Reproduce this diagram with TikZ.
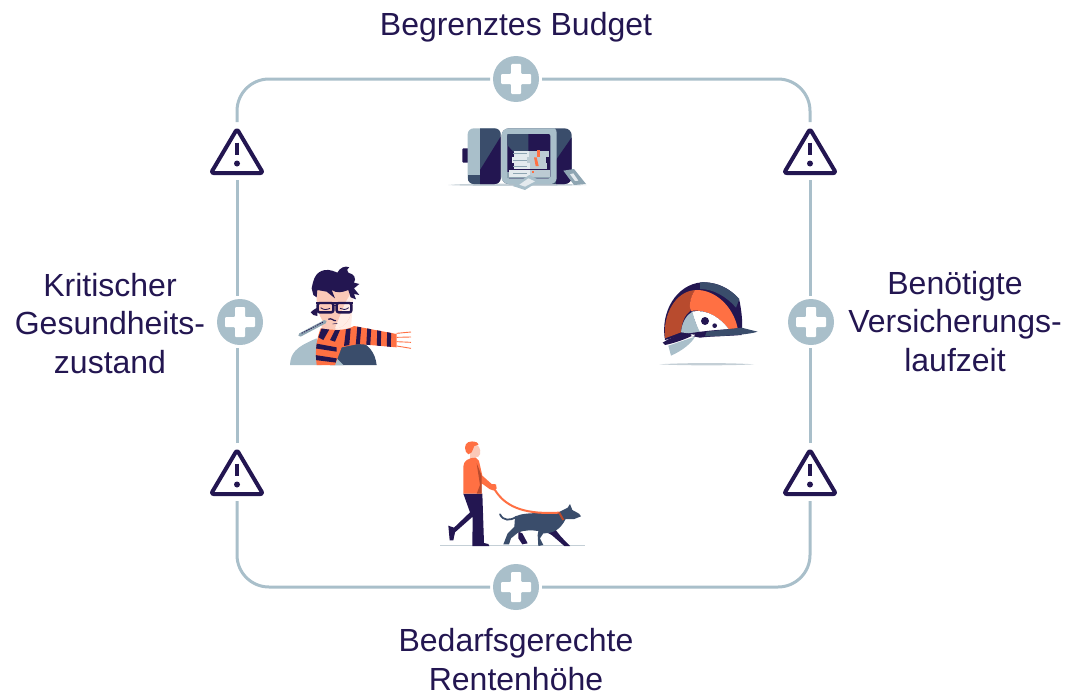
\documentclass[tikz,border=0pt]{standalone}
\usepackage{fontspec}
\setmainfont{Liberation Sans}
\definecolor{ink}{HTML}{231651}
\definecolor{frameblue}{HTML}{A9BFCA}
\definecolor{slate}{HTML}{3A4D6B}
\definecolor{midgrey}{HTML}{8EA5B2}
\definecolor{paper}{HTML}{E4EAEE}
\definecolor{papershade}{HTML}{BCCBD3}
\definecolor{coral}{HTML}{FF7043}
\definecolor{rust}{HTML}{B84B2E}
\definecolor{skin}{HTML}{FBC9B8}
\definecolor{skinb}{HTML}{FFEDE6}
\definecolor{shadowgrey}{HTML}{C4CFD6}
\tikzset{
  frameline/.style={draw=frameblue,line width=3pt,rounded corners=32pt},
  plusnode/.style={circle,fill=frameblue,minimum size=46pt,inner sep=0pt,outer sep=3pt},
  warnnode/.style={minimum width=54pt,minimum height=58pt,inner sep=0pt,outer sep=0pt},
  label/.style={text=ink,align=center,font=\fontsize{32}{38.5}\selectfont,inner sep=0pt},
}
\newcommand{\plusicon}[3]{%
  \node[plusnode] (#1) at (#2,#3) {};
  \fill[white,rounded corners=1pt] (#2-5,#3-15) -- (#2+5,#3-15) -- (#2+5,#3-5) -- (#2+15,#3-5) -- (#2+15,#3+5) -- (#2+5,#3+5) -- (#2+5,#3+15) -- (#2-5,#3+15) -- (#2-5,#3+5) -- (#2-15,#3+5) -- (#2-15,#3-5) -- (#2-5,#3-5) -- cycle;
}
\newcommand{\warnicon}[3]{%
  \node[warnnode] (#1) at (#2,#3) {};
  \draw[ink,line width=4pt,line join=round,rounded corners=2.5pt] (#2,#3-22) -- (#2+26,#3+22) -- (#2-26,#3+22) -- cycle;
  \draw[ink,line width=4.4pt] (#2,#3-8.5) -- (#2,#3+3.5);
  \fill[ink] (#2,#3+12.5) circle (3pt);
}
\begin{document}
\begin{tikzpicture}[x=1pt,y=-1pt]
\useasboundingbox (0,0) rectangle (1078,693);
% icons on the frame
\plusicon{plusT}{516}{79}
\plusicon{plusL}{240}{322}
\plusicon{plusR}{811}{322}
\plusicon{plusB}{516}{587}
\warnicon{warnTL}{237}{151}
\warnicon{warnTR}{810}{151}
\warnicon{warnBL}{237}{472}
\warnicon{warnBR}{810}{472}
% frame segments
\draw[frameline] (plusT.west) -| (warnTL.north);
\draw[frameline] (plusT.east) -| (warnTR.north);
\draw[frameline] (plusB.west) -| (warnBL.south);
\draw[frameline] (plusB.east) -| (warnBR.south);
\draw[frameline] (warnTL.south) -- (warnTL.south |- plusL.north);
\draw[frameline] (warnBL.north) -- (warnBL.north |- plusL.south);
\draw[frameline] (warnTR.south) -- (warnTR.south |- plusR.north);
\draw[frameline] (warnBR.north) -- (warnBR.north |- plusR.south);
% labels
\node[label] (tTop) at (516,27) {Begrenztes Budget};
\node[label] (tLeft) at (110,323.5) {Kritischer\\Gesundheits-\\zustand};
\node[label] (tRight) at (955,321.5) {Benötigte\\Versicherungs-\\laufzeit};
\node[label] (tBottom) at (516,659.5) {Bedarfsgerechte\\Rentenhöhe};

% ---------- safe
\begin{scope}[shift={(430,110)},scale=1/3]
\fill[shadowgrey] (55,225) .. controls (100,219) and (400,219) .. (470,225) .. controls (400,229) and (100,229) .. (55,225);
\fill[ink,rounded corners=1pt] (97,115) rectangle (116,158);
% door
\fill[frameblue,rounded corners=6pt] (113,55) rectangle (212,222);
\begin{scope}
\clip[rounded corners=6pt] (113,55) rectangle (212,222);
\fill[slate] (150,50) rectangle (215,225);
\fill[ink] (150,225) -- (150,180) -- (215,75) -- (215,225) -- cycle;
\fill[slate] (113,195) rectangle (150,225);
\end{scope}
% body
\fill[slate,rounded corners=7pt] (215,55) rectangle (425,222);
\begin{scope}
\clip[rounded corners=7pt] (215,55) rectangle (425,222);
\fill[ink] (378,222) -- (378,150) -- (430,75) -- (430,222) -- cycle;
\fill[frameblue,rounded corners=6pt] (215,50) rectangle (380,222);
\end{scope}
\fill[ink,rounded corners=2pt] (232,72) rectangle (361,205);
\fill[slate] (232,72) -- (295,72) -- (295,125) -- (250,125) -- (232,105) -- cycle;
\fill[midgrey] (232,205) -- (232,185) -- (361,185) -- (361,205) -- cycle;
% money
\fill[paper] (252,122) rectangle (357,142);
\fill[papershade] (296,122) rectangle (357,142);
\fill[paper] (245,142) rectangle (347,160);
\fill[papershade] (290,142) rectangle (347,160);
\fill[paper] (252,160) rectangle (350,178);
\fill[papershade] (300,160) rectangle (350,178);
\fill[paper] (238,180) rectangle (360,202);
\fill[papershade] (300,180) rectangle (360,202);
\foreach \yy in {131,151,169,191} \draw[midgrey,line width=.5pt] (250,\yy) -- (292,\yy);
\fill[coral] (322,120) rectangle (330,142);
\fill[coral] (312,142) -- (320,142) -- (326,168) -- (317,168) -- cycle;
\fill[coral] (305,183) rectangle (311,190);
% notes
\fill[frameblue] (298,195) -- (330,212) -- (285,240) -- (248,228) -- cycle;
\fill[paper] (295,205) -- (315,214) -- (285,230) -- (268,224) -- cycle;
\fill[midgrey] (400,182) -- (432,177) -- (468,222) -- (432,225) -- cycle;
\fill[paper] (420,193) -- (430,190) -- (445,212) -- (435,213) -- cycle;
\end{scope}

% ---------- man with scarf
\begin{scope}[shift={(280,260)},scale=1/3]
% jacket
\fill[slate] (150,315) -- (150,245) -- (235,240) .. controls (265,255) and (285,275) .. (290,315) -- cycle;
\fill[frameblue] (30,315) .. controls (32,280) and (45,262) .. (110,235) -- (125,315) -- cycle;
\fill[frameblue] (150,275) -- (190,315) -- (150,315) -- cycle;
% neck and face
\fill[skinb] (125,180) -- (218,140) -- (210,240) -- (125,240) -- cycle;
\fill[skin] (110,85) -- (215,85) -- (218,135) .. controls (215,175) and (195,205) .. (165,205) .. controls (135,205) and (112,170) .. (110,120) -- cycle;
\fill[skin] (125,190) -- (170,190) -- (160,235) -- (125,235) -- cycle;
\fill[skinb] (218,90) -- (218,140) .. controls (212,175) and (195,205) .. (165,205) -- (195,130) -- cycle;
% hair
\fill[ink] (95,85) .. controls (100,60) and (105,35) .. (135,30) .. controls (150,28) and (165,35) .. (172,38) .. controls (178,25) and (195,15) .. (208,22) .. controls (200,28) and (200,32) .. (205,38) .. controls (222,42) and (230,55) .. (222,68) -- (238,72) -- (222,85) -- (238,105) -- (222,102) -- (228,118) -- (212,112) -- (205,90) .. controls (185,98) and (170,100) .. (155,90) -- (165,115) -- (140,95) -- (112,90) -- (110,112) -- (100,105) -- cycle;
\fill[ink] (100,150) -- (112,143) -- (112,168) -- (100,165) -- (92,157) -- cycle;
% glasses
\draw[ink,line width=2.4pt,rounded corners=2pt] (113,129) rectangle (160,157);
\draw[ink,line width=2.4pt,rounded corners=2pt] (170,129) rectangle (214,157);
\draw[ink,line width=2.6pt] (108,129) -- (220,129);
\draw[ink,line width=1.4pt] (158,137) -- (172,137);
\draw[ink,line width=.8pt] (122,143) .. controls (130,150) and (140,150) .. (150,145);
\draw[ink,line width=.8pt] (180,145) .. controls (188,150) and (198,150) .. (206,143);
% mouth
\draw[ink,line width=1.2pt] (145,178) .. controls (155,172) and (160,184) .. (168,182);
\draw[ink,line width=.5pt] (158,192) -- (172,190);
% thermometer
\draw[midgrey,line width=3.5pt,line cap=round] (60,225) -- (135,185);
\draw[ink,line width=.8pt,dash pattern=on 1.5pt off 1pt] (65,220) -- (130,186);
% scarf
\begin{scope}
\clip (122,205) .. controls (160,212) and (200,212) .. (222,198) -- (350,222) -- (350,262) -- (235,252) -- (185,262) -- (165,315) -- (110,315) .. controls (105,280) and (108,240) .. (122,205) -- cycle;
\fill[coral] (100,195) rectangle (360,320);
\foreach \xa/\xb in {232/226,262/258,292/290,322/320}
  \fill[ink] (\xa,200) -- (\xa+12,200) -- (\xb+12,270) -- (\xb,270) -- cycle;
\fill[ink] (125,205) -- (148,208) -- (130,240) -- (115,232) -- cycle;
\fill[ink] (165,210) -- (180,210) -- (165,245) -- (150,240) -- cycle;
\fill[ink] (198,208) -- (212,205) -- (208,255) -- (192,258) -- cycle;
\fill[ink] (105,250) -- (170,262) -- (170,275) -- (105,265) -- cycle;
\fill[ink] (105,285) -- (170,295) -- (170,308) -- (105,300) -- cycle;
\end{scope}
\foreach \ya/\yb in {220/216,232/231,245/247,258/265}
  \draw[coral,line width=.9pt] (350,\ya) -- (393,\yb);
\end{scope}

% ---------- helmet
\begin{scope}[shift={(650,275)},scale=1/3]
\fill[shadowgrey] (28,268) .. controls (100,263) and (240,263) .. (312,268) .. controls (240,272) and (100,272) .. (28,268);
\fill[frameblue] (55,212) -- (135,185) .. controls (125,205) and (95,228) .. (63,242) -- cycle;
\fill[ink] (45,195) .. controls (30,110) and (80,28) .. (155,22) .. controls (215,20) and (255,55) .. (268,75) .. controls (275,110) and (278,140) .. (276,165) -- (100,180) -- cycle;
\fill[slate] (150,22) .. controls (200,18) and (245,45) .. (268,72) -- (258,98) .. controls (230,65) and (190,42) .. (150,42) -- cycle;
\fill[rust] (45,190) .. controls (38,120) and (75,50) .. (135,45) .. controls (118,70) and (120,95) .. (120,108) .. controls (105,120) and (95,140) .. (93,172) -- cycle;
\fill[coral] (135,45) .. controls (195,42) and (250,95) .. (263,160) -- (238,165) .. controls (215,130) and (170,100) .. (122,108) .. controls (118,95) and (118,70) .. (135,45) -- cycle;
\fill[white] (125,110) .. controls (170,100) and (215,130) .. (240,168) -- (150,180) -- cycle;
\fill[frameblue] (93,172) .. controls (96,140) and (110,120) .. (127,110) .. controls (132,130) and (140,155) .. (155,180) -- cycle;
\fill[ink] (165,138) circle (12pt);
\fill[ink] (194,152) circle (7pt);
\fill[ink] (38,203) .. controls (70,180) and (130,168) .. (275,160) -- (275,180) .. controls (220,184) and (180,184) .. (150,188) -- (125,183) .. controls (100,195) and (70,205) .. (45,210) -- cycle;
\fill[slate] (170,170) -- (275,158) -- (323,170) .. controls (300,178) and (230,184) .. (165,184) -- cycle;
\fill[white] (122,178) -- (135,179) -- (132,183) -- (124,182) -- cycle;
\end{scope}

% ---------- walker and dog
\begin{scope}[shift={(435,435)},scale=1/3]
\fill[shadowgrey] (15,329) rectangle (450,333);
% man
\fill[skin] (122,30) .. controls (138,30) and (140,60) .. (130,65) -- (105,72) -- (105,40) -- cycle;
\fill[coral] (90,38) .. controls (90,22) and (105,15) .. (125,22) .. controls (130,25) and (130,28) .. (130,30) -- (118,33) -- (110,52) -- (100,58) .. controls (94,55) and (90,48) .. (90,38) -- cycle;
\fill[ink] (40,272) -- (57,278) -- (105,232) -- (85,176) -- (142,176) -- (147,324) -- (160,327) -- (163,333) -- (112,333) -- (113,245) -- (60,292) -- (55,316) -- (44,316) -- cycle;
\fill[coral] (85,170) -- (85,95) .. controls (85,78) and (100,68) .. (122,68) -- (132,78) -- (142,122) -- (170,147) -- (183,148) -- (185,160) -- (178,167) -- (165,163) -- (140,145) -- (140,176) -- (85,176) -- cycle;
\fill[rust] (125,85) -- (140,122) -- (140,176) -- (125,176) -- (135,150) -- cycle;
% dog
\draw[slate,line width=1.8pt,line cap=round] (195,238) .. controls (205,258) and (225,258) .. (245,245);
\fill[ink] (322,285) -- (350,270) -- (378,305) -- (405,333) -- (388,333) -- (350,300) -- cycle;
\fill[ink] (250,290) -- (262,295) -- (270,310) -- (278,325) -- (262,328) -- (250,310) -- cycle;
\fill[slate] (240,245) .. controls (270,228) and (340,238) .. (370,232) -- (398,218) -- (405,207) -- (412,225) -- (432,236) -- (438,244) -- (418,252) -- (392,252) .. controls (375,285) and (355,295) .. (325,295) -- (315,310) -- (325,330) -- (310,333) -- (308,300) -- (310,288) .. controls (290,285) and (270,285) .. (250,292) -- (228,310) -- (222,328) -- (205,328) -- (218,295) -- (238,275) -- cycle;
% lead and collar
\draw[coral,line width=2pt,line cap=round] (180,165) .. controls (215,222) and (280,238) .. (372,233);
\draw[rust,line width=2pt] (372,232) -- (385,255);
\end{scope}
\end{tikzpicture}
\end{document}
